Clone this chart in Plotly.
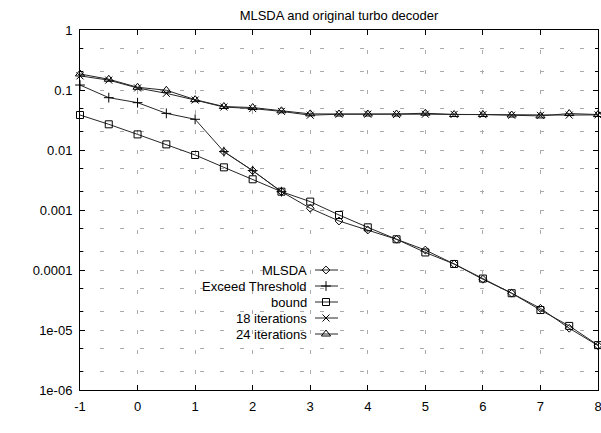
import plotly.graph_objects as go

# Eb/No grid (dB)
snr = [-1, -0.5, 0, 0.5, 1, 1.5, 2, 2.5, 3, 3.5, 4, 4.5, 5, 5.5, 6, 6.5, 7, 7.5, 8]
snr_exceed = [-1, -0.5, 0, 0.5, 1, 1.5, 2, 2.5]
snr_mlsda = [1.5, 2, 2.5, 3, 3.5, 4, 4.5, 5, 5.5, 6, 6.5, 7, 7.5, 8]

# BER curves
ber_mlsda = [0.0094, 0.00453, 0.00202, 0.00107, 0.000656, 0.000464, 0.000325,
             0.000215, 0.000126, 7.0e-5, 4.1e-5, 2.3e-5, 1.07e-5, 5.5e-6]
ber_exceed = [0.121, 0.0745, 0.0615, 0.0408, 0.0325, 0.0094, 0.00453, 0.00202]
ber_bound = [0.0383, 0.0268, 0.0182, 0.0124, 0.00826, 0.00514, 0.00325, 0.00202,
             0.00138, 0.000826, 0.000514, 0.000325, 0.000196, 0.000126, 7.2e-5,
             4.1e-5, 2.15e-5, 1.17e-5, 5.6e-6]
ber_iter18 = [0.172, 0.146, 0.108, 0.088, 0.068, 0.052, 0.049, 0.044, 0.038, 0.0395,
              0.0395, 0.039, 0.0395, 0.0392, 0.0388, 0.038, 0.0378, 0.0382, 0.0385]
ber_iter24 = [0.185, 0.151, 0.111, 0.099, 0.069, 0.053, 0.051, 0.045, 0.040, 0.0398,
              0.0398, 0.0398, 0.041, 0.039, 0.039, 0.0383, 0.0370, 0.0405, 0.039]

# Axis ticks
x_ticks = [-1, 0, 1, 2, 3, 4, 5, 6, 7, 8]
x_tick_text = ["-1", "0", "1", "2", "3", "4", "5", "6", "7", "8"]
y_ticks = [1, 0.1, 0.01, 0.001, 0.0001, 1e-5, 1e-6]
y_tick_text = ["1", "0.1", "0.01", "0.001", "0.0001", "1e-05", "1e-06"]
y_minor = [m * 10.0 ** e for e in range(-6, 0) for m in (2, 5)]

FONT = "Liberation Sans, Arial, Helvetica, sans-serif"
INK = "#000000"
LINE = "#262626"
GRID = "#ababab"

series = [
    ("MLSDA", snr_mlsda, ber_mlsda, "diamond-open", 6),
    ("Exceed Threshold", snr_exceed, ber_exceed, "cross-thin-open", 7),
    ("bound", snr, ber_bound, "square-open", 7),
    ("18 iterations", snr, ber_iter18, "x-thin-open", 7),
    ("24 iterations", snr, ber_iter24, "triangle-up-open", 8),
]

fig = go.Figure()
for name, xs, ys, sym, sz in series:
    fig.add_trace(go.Scatter(
        x=xs, y=ys, name=name, mode="lines+markers",
        line=dict(color=LINE, width=1),
        marker=dict(symbol=sym, size=sz, color=INK, line=dict(color=INK, width=1)),
        showlegend=False, cliponaxis=False,
    ))

# Key drawn in a pixel-space overlay (x2/y2): text right-aligned, sample to the right
key_x_text = 309
key_x0, key_x1, key_xm = 315, 338, 326
key_y0, key_dy = 270, 16
for i, (name, xs, ys, sym, sz) in enumerate(series):
    yy = key_y0 + i * key_dy
    fig.add_trace(go.Scatter(
        x=[key_x0, key_x1], y=[yy, yy], mode="lines",
        line=dict(color=LINE, width=1), xaxis="x2", yaxis="y2",
        showlegend=False, hoverinfo="skip",
    ))
    fig.add_trace(go.Scatter(
        x=[key_xm], y=[yy], mode="markers",
        marker=dict(symbol=sym, size=sz, color=INK, line=dict(color=INK, width=1)),
        xaxis="x2", yaxis="y2", showlegend=False, hoverinfo="skip",
    ))
    fig.add_annotation(
        x=key_x_text, y=yy, xref="x2", yref="y2", text=name, showarrow=False,
        xanchor="right", yanchor="middle", font=dict(family=FONT, size=13, color=INK),
    )

# Axis titles
fig.add_annotation(x=340, y=414, xref="x2", yref="y2", text="Eb/No(dB)", showarrow=False,
                   xanchor="center", yanchor="middle",
                   font=dict(family=FONT, size=13, color=INK))
fig.add_annotation(x=15, y=210, xref="x2", yref="y2", text="BER", showarrow=False,
                   textangle=-90, xanchor="center", yanchor="middle",
                   font=dict(family=FONT, size=13, color=INK))

fig.update_layout(
    width=601, height=433,
    margin=dict(l=80, r=3, t=30, b=43, autoexpand=False),
    paper_bgcolor="white", plot_bgcolor="white",
    font=dict(family=FONT, size=13, color=INK),
    title=dict(text="MLSDA and original turbo decoder", x=0.5, xref="paper",
               y=1 - 15 / 433, yref="container", xanchor="center", yanchor="middle",
               font=dict(family=FONT, size=13, color=INK)),
    xaxis=dict(
        range=[-1, 8], tickmode="array", tickvals=x_ticks, ticktext=x_tick_text,
        ticks="inside", ticklen=5, tickcolor=INK, tickwidth=1,
        showline=True, linecolor=INK, linewidth=1, mirror="ticks",
        showgrid=True, gridcolor=GRID, gridwidth=1, griddash="4px,16px",
        zeroline=False, ticklabelstandoff=4, ticklabeloverflow="allow",
        automargin=False,
    ),
    yaxis=dict(
        type="log", range=[-6, 0], tickmode="array", tickvals=y_ticks, ticktext=y_tick_text,
        ticks="inside", ticklen=5, tickcolor=INK, tickwidth=1,
        showline=True, linecolor=INK, linewidth=1, mirror="ticks",
        showgrid=True, gridcolor=GRID, gridwidth=1, griddash="4px,16px",
        zeroline=False, ticklabelstandoff=4, ticklabeloverflow="allow",
        automargin=False,
        minor=dict(tickmode="array", tickvals=y_minor, ticks="inside", ticklen=3,
                   tickcolor=INK, showgrid=True, gridcolor=GRID, gridwidth=1,
                   griddash="4px,16px"),
    ),
    xaxis2=dict(range=[80, 598], overlaying="x", visible=False, fixedrange=True),
    yaxis2=dict(range=[390, 30], overlaying="y", visible=False, fixedrange=True),
)

fig.write_html("out.html")
